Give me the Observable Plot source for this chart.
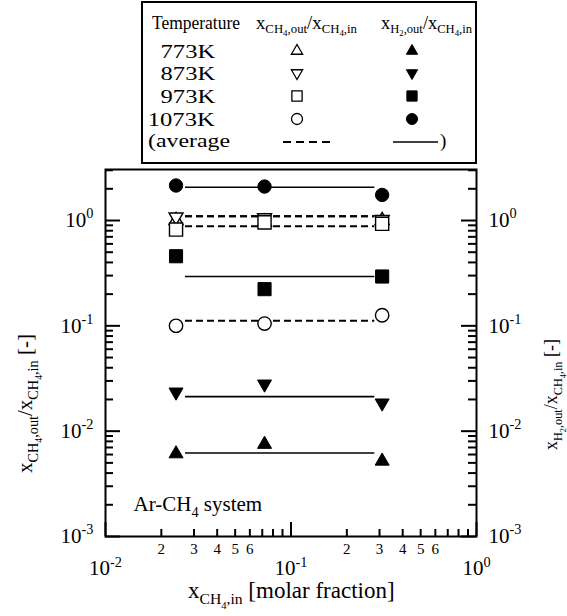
<!DOCTYPE html>
<html><head><meta charset="utf-8">
<script src="https://cdn.jsdelivr.net/npm/d3@7"></script>
<script src="https://cdn.jsdelivr.net/npm/@observablehq/plot@0.6"></script>
<style>
html,body{margin:0;padding:0;background:#fff;}
#wrap{position:relative;width:567px;height:616px;font-family:"Liberation Serif","Times New Roman",serif;color:#000;overflow:hidden;}
#legend{position:absolute;left:141px;top:1px;width:336px;height:163px;border:2px solid #000;box-sizing:border-box;}
#legend .t{position:absolute;font-size:19px;line-height:19px;white-space:nowrap;}
#legend .t span.in{display:inline-block;}
#legend .s{font-size:13px;position:relative;top:4px;}
#legend .ss{font-size:9px;position:relative;top:3px;}
#legend svg{position:absolute;overflow:visible;}
#chart{position:absolute;left:0;top:165px;}
</style>
</head><body>
<div id="wrap"><div id="legend"></div><div id="chart"></div></div>
<script>
// ---------- data ----------
const xIn = [0.024, 0.072, 0.31];
const temperatures = ["773K", "873K", "973K", "1073K"];
const ch4_773 = [1.0, 0.97, 1.0];
const ch4_873 = [1.08, 1.06, 1.02];
const ch4_973 = [0.82, 0.96, 0.93];
const ch4_1073 = [0.100, 0.105, 0.126];
const h2_773 = [0.0061, 0.0075, 0.0052];
const h2_873 = [0.0235, 0.028, 0.0185];
const h2_973 = [0.458, 0.223, 0.294];
const h2_1073 = [2.15, 2.10, 1.75];
const ch4Avg = [1.10, 1.10, 0.88, 0.112];
const h2Avg = [0.0062, 0.0213, 0.294, 2.07];
const avgSpan = [0.027, 0.283];
const xDomain = [0.01, 1];
const yDomain = [0.001, 3.05];
const xMajorTicks = [0.01, 0.1, 1];
const yMajorTicks = [0.001, 0.01, 0.1, 1];
const xMinorLabels = ["2", "3", "4", "5", "6"];

// ---------- encodings ----------
const symbolNames = ["triangle", "triangle", "square", "circle"];
const symbolRotate = [0, 180, 0, 0];

// ---------- layout ----------
const W = 567, H = 451;
const margin = {top: 4, right: 91, bottom: 80, left: 105};
const plotW = W - margin.left - margin.right;
const plotH = H - margin.top - margin.bottom;
// tick lengths (px) expressed along the log scales
const decX = plotW / Math.log10(xDomain[1] / xDomain[0]);
const decY = plotH / Math.log10(yDomain[1] / yDomain[0]);
const xFromLeft = px => xDomain[0] * 10 ** (px / decX);
const xFromRight = px => xDomain[1] / 10 ** (px / decX);
const yFromBottom = px => yDomain[0] * 10 ** (px / decY);

const ch4Series = [ch4_773, ch4_873, ch4_973, ch4_1073];
const h2Series = [h2_773, h2_873, h2_973, h2_1073];
const pts = [];
temperatures.forEach((t, i) => xIn.forEach((x, j) => {
  pts.push({t, i, gas: "CH4", x, y: ch4Series[i][j]});
  pts.push({t, i, gas: "H2", x, y: h2Series[i][j]});
}));
const avgRows = temperatures.flatMap((t, i) => [
  {t, i, gas: "CH4", y: ch4Avg[i], x1: avgSpan[0], x2: avgSpan[1]},
  {t, i, gas: "H2", y: h2Avg[i], x1: avgSpan[0], x2: avgSpan[1]}
]);

const yMinor = [];
for (const d of yMajorTicks) for (let k = 2; k <= 9; k++) { const v = d * k; if (v <= yDomain[1]) yMinor.push(v); }
const xMinor = [];
for (const d of xMajorTicks.slice(0, -1)) for (let k = 2; k <= 9; k++) xMinor.push(d * k);
const xMinorLabelTicks = xMajorTicks.slice(0, -1).flatMap(dec => xMinorLabels.map(l => dec * +l));

// tick rows as objects with explicit endpoints
const tickRowsY = (vals, len, side) => vals.map(v => side === "left"
  ? {y: v, x1: xDomain[0], x2: xFromLeft(len)}
  : {y: v, x1: xFromRight(len), x2: xDomain[1]});
const tickRowsX = (vals, len) => vals.map(v => ({x: v, y1: yDomain[0], y2: yFromBottom(len)}));

const symR = {triangle: 5.2, square: 7.4, circle: 6.7};
function dots(i, gas) {
  const name = symbolNames[i];
  return Plot.dot(pts.filter(d => d.i === i && d.gas === gas), {
    x: "x", y: "y", symbol: name, r: symR[name], rotate: symbolRotate[i],
    fill: gas === "CH4" ? "white" : "black", stroke: "black",
    strokeWidth: gas === "CH4" ? 1.4 : 1
  });
}
const expFmt = d => `10^{${Math.round(Math.log10(d))}}`;
const digitFmt = d => String(Math.round(d / 10 ** Math.floor(Math.log10(d) + 1e-9)));

const svg = Plot.plot({
  width: W, height: H,
  marginTop: margin.top, marginRight: margin.right, marginBottom: margin.bottom, marginLeft: margin.left,
  style: {fontFamily: "'Liberation Serif', 'Times New Roman', serif", background: "white", color: "black"},
  x: {type: "log", domain: xDomain, axis: null},
  y: {type: "log", domain: yDomain, axis: null},
  marks: [
    // tick labels
    Plot.text(yMajorTicks, {y: d => d, text: expFmt, frameAnchor: "left", dx: -12, textAnchor: "end", fontSize: 21}),
    Plot.text(yMajorTicks, {y: d => d, text: expFmt, frameAnchor: "right", dx: 12, textAnchor: "start", fontSize: 21}),
    Plot.text(xMajorTicks, {x: d => d, text: expFmt, frameAnchor: "bottom", dy: 24, lineAnchor: "top", fontSize: 21}),
    Plot.text(xMinorLabelTicks, {x: d => d, text: digitFmt, frameAnchor: "bottom", dy: 7, lineAnchor: "top", fontSize: 15}),
    // average lines
    Plot.ruleY(avgRows.filter(d => d.gas === "CH4"), {y: "y", x1: "x1", x2: "x2", strokeWidth: 2, strokeDasharray: "7,4"}),
    Plot.ruleY(avgRows.filter(d => d.gas === "H2"), {y: "y", x1: "x1", x2: "x2", strokeWidth: 1.6}),
    // markers
    dots(0, "CH4"), dots(1, "CH4"), dots(2, "CH4"), dots(3, "CH4"),
    dots(0, "H2"), dots(1, "H2"), dots(2, "H2"), dots(3, "H2"),
    Plot.frame({strokeWidth: 2}),
    // inward ticks on left, right and bottom edges (drawn on top)
    Plot.ruleY(tickRowsY(yMinor, 8, "left"), {y: "y", x1: "x1", x2: "x2", stroke: "black", strokeWidth: 2}),
    Plot.ruleY(tickRowsY(yMajorTicks, 15, "left"), {y: "y", x1: "x1", x2: "x2", stroke: "black", strokeWidth: 2}),
    Plot.ruleY(tickRowsY(yMinor, 8, "right"), {y: "y", x1: "x1", x2: "x2", stroke: "black", strokeWidth: 2}),
    Plot.ruleY(tickRowsY(yMajorTicks, 15, "right"), {y: "y", x1: "x1", x2: "x2", stroke: "black", strokeWidth: 2}),
    Plot.ruleX(tickRowsX(xMinor, 7), {x: "x", y1: "y1", y2: "y2", stroke: "black", strokeWidth: 2}),
    Plot.ruleX(tickRowsX(xMajorTicks, 14), {x: "x", y1: "y1", y2: "y2", stroke: "black", strokeWidth: 2}),
    // texts (start-anchored; stretched to the reference's length)
    Plot.text(["Ar-CH_{4} system"], {frameAnchor: "bottom-left", dx: 28, dy: -26, fontSize: 21, textAnchor: "start", lineAnchor: "bottom", ariaLabel: "fit-139"}),
    Plot.text(["x_{CH_{4},out}/x_{CH_{4},in} [-]"], {frameAnchor: "left", dx: -74, dy: 120, rotate: -90, fontSize: 21, textAnchor: "start", lineAnchor: "bottom", ariaLabel: "fit-206"}),
    Plot.text(["x_{H_{2},out}/x_{CH_{4},in} [-]"], {frameAnchor: "right", dx: 80, dy: 97, rotate: -90, fontSize: 18, textAnchor: "start", lineAnchor: "bottom", ariaLabel: "fit-170"}),
    Plot.text(["x_{CH_{4},in} [molar fraction]"], {frameAnchor: "bottom", dx: -103, dy: 61, fontSize: 23, textAnchor: "start", lineAnchor: "bottom", ariaLabel: "fit-222"})
  ]
});
document.getElementById("chart").appendChild(svg);

// rich text (sub/superscripts) for SVG text
function rich(el, src, base) {
  const ns = "http://www.w3.org/2000/svg";
  el.textContent = "";
  const stack = [{size: base, shift: 0}];
  let cur = 0, buf = "";
  function flush() {
    if (!buf) return;
    const st = stack[stack.length - 1];
    const t = document.createElementNS(ns, "tspan");
    t.setAttribute("font-size", st.size.toFixed(2));
    const dy = st.shift - cur;
    if (Math.abs(dy) > 1e-6) t.setAttribute("dy", dy.toFixed(2));
    cur = st.shift;
    t.textContent = buf;
    el.appendChild(t);
    buf = "";
  }
  for (let i = 0; i < src.length; i++) {
    const c = src[i];
    if ((c === "_" || c === "^") && src[i + 1] === "{") {
      flush();
      const p = stack[stack.length - 1];
      stack.push({size: p.size * 0.68, shift: p.shift + (c === "_" ? p.size * 0.3 : -p.size * 0.42)});
      i++;
    } else if (c === "}") { flush(); stack.pop(); }
    else buf += c;
  }
  flush();
}
d3.select(svg).selectAll("text").each(function () {
  const s = this.textContent;
  if (s.includes("{")) rich(this, s, parseFloat(getComputedStyle(this).fontSize));
});
d3.select(svg).selectAll("g[aria-label^='fit-'] text").each(function () {
  const target = +this.parentNode.getAttribute("aria-label").slice(4);
  this.setAttribute("textLength", target);
  this.setAttribute("lengthAdjust", "spacingAndGlyphs");
});

// ---------- legend (HTML) ----------
const legend = document.getElementById("legend");
function addText(html, left, topPx, extra = "") {
  const d = document.createElement("div");
  d.className = "t";
  d.style.cssText = `left:${left}px;top:${topPx}px;${extra}`;
  d.innerHTML = `<span class="in">${html}</span>`;
  legend.appendChild(d);
  return d.firstChild;
}
function fit(span, target, origin) {
  const w = span.getBoundingClientRect().width;
  span.style.transformOrigin = `${origin} center`;
  span.style.transform = `scaleX(${(target / w).toFixed(3)})`;
  return target / w;
}
const d3Sym = {triangle: d3.symbolTriangle, square: d3.symbolSquare, circle: d3.symbolCircle};
const legSize = {triangle: 55, square: 105, circle: 95};
function addSymbol(i, filled, cx, cy) {
  const name = symbolNames[i];
  const s = document.createElementNS("http://www.w3.org/2000/svg", "svg");
  s.setAttribute("width", 20); s.setAttribute("height", 20);
  s.style.left = (cx - 10) + "px"; s.style.top = (cy - 10) + "px";
  const p = document.createElementNS("http://www.w3.org/2000/svg", "path");
  p.setAttribute("d", d3.symbol(d3Sym[name], legSize[name])());
  p.setAttribute("transform", `translate(10,10) rotate(${symbolRotate[i]})`);
  p.setAttribute("fill", filled ? "black" : "white");
  p.setAttribute("stroke", "black");
  p.setAttribute("stroke-width", filled ? 1 : 1.3);
  s.appendChild(p);
  legend.appendChild(s);
}
function addLine(x1, x2, y, dash) {
  const s = document.createElementNS("http://www.w3.org/2000/svg", "svg");
  s.setAttribute("width", x2 - x1); s.setAttribute("height", 4);
  s.style.left = x1 + "px"; s.style.top = (y - 2) + "px";
  const l = document.createElementNS("http://www.w3.org/2000/svg", "line");
  l.setAttribute("x1", 0); l.setAttribute("x2", x2 - x1); l.setAttribute("y1", 2); l.setAttribute("y2", 2);
  l.setAttribute("stroke", "black"); l.setAttribute("stroke-width", dash ? 2 : 1.3);
  if (dash) l.setAttribute("stroke-dasharray", "8,5");
  s.appendChild(l);
  legend.appendChild(s);
}
// origin of legend content box is page (143, 3)
const ox = 143, oy = 3;
const topOf = y => y - 15 - oy; // baseline -> top of a 19px line box
fit(addText("Temperature", 152 - ox, topOf(28)), 88, "left");
fit(addText('x<span class="s">CH<span class="ss">4</span>,out</span>/x<span class="s">CH<span class="ss">4</span>,in</span>', 256 - ox, topOf(28)), 101, "left");
fit(addText('x<span class="s">H<span class="ss">2</span>,out</span>/x<span class="s">CH<span class="ss">4</span>,in</span>', 381 - ox, topOf(28)), 91, "left");
const rowBase = [57, 79, 102, 125];
const tempSpans = temperatures.map((t, i) => {
  addSymbol(i, false, 297 - ox, rowBase[i] - 6 - oy);
  addSymbol(i, true, 412 - ox, rowBase[i] - 6 - oy);
  return addText(t, 0, topOf(rowBase[i]), "width:72px;text-align:right;");
});
const kT = 67 / tempSpans[3].getBoundingClientRect().width;
tempSpans.forEach(s => { s.style.transformOrigin = "right center"; s.style.transform = `scaleX(${kT.toFixed(3)})`; });
fit(addText("(average", 148 - ox, topOf(146)), 82, "left");
addLine(283 - ox, 330 - ox, 142 - oy, true);
addLine(393 - ox, 438 - ox, 142 - oy, false);
addText(")", 440 - ox, topOf(146));
</script>
</body></html>
